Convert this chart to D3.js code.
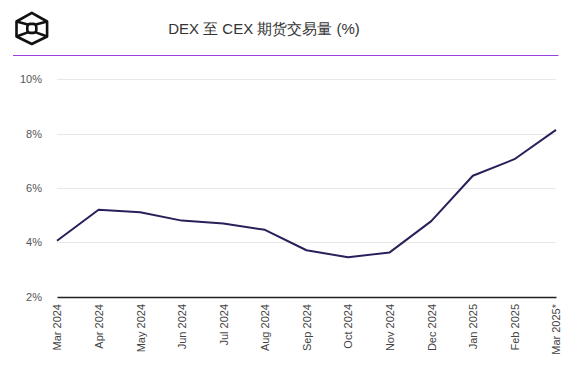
<!DOCTYPE html>
<html><head><meta charset="utf-8">
<script src="https://cdn.jsdelivr.net/npm/d3@7"></script>
<style>
html,body{margin:0;padding:0;background:#fff;}
svg{display:block;}
</style></head>
<body>
<svg id="chart" width="577" height="365"></svg>
<script>
const title = "DEX 至 CEX 期货交易量 (%)";
const months = ["Mar 2024","Apr 2024","May 2024","Jun 2024","Jul 2024","Aug 2024","Sep 2024","Oct 2024","Nov 2024","Dec 2024","Jan 2025","Feb 2025","Mar 2025*"];
const values = [4.06, 5.20, 5.11, 4.80, 4.69, 4.46, 3.71, 3.45, 3.63, 4.78, 6.45, 7.06, 8.14];
const yTicks = [2, 4, 6, 8, 10];

const svg = d3.select("#chart");
const font = "'Liberation Sans', Arial, sans-serif";

// logo
const lg = svg.append("g").attr("fill","none").attr("stroke","#111").attr("stroke-width",2.6).attr("stroke-linejoin","round");
const cx = 31.8, cy = 28.4, hw = 15.3;
const hex = [[cx,12.8],[cx+hw,21.5],[cx+hw,36.5],[cx,44],[cx-hw,36.5],[cx-hw,21.5]];
lg.append("path").attr("d", d3.line()(hex) + "Z");
lg.append("rect").attr("x",cx-4.5).attr("y",cy-4.5).attr("width",9).attr("height",9).attr("rx",3);
lg.append("path").attr("d",`M${cx-hw},21.5L${cx-4},${cy-4}M${cx+hw},21.5L${cx+4},${cy-4}M${cx-hw},36.5L${cx-4},${cy+4}M${cx+hw},36.5L${cx+4},${cy+4}`);

// title
svg.append("text").attr("x",264).attr("y",34).attr("text-anchor","middle")
  .attr("font-family",font).attr("font-size",15).attr("fill","#333").text(title);

// purple separator
svg.append("line").attr("x1",13).attr("x2",558.5).attr("y1",55.5).attr("y2",55.5)
  .attr("stroke","#9a40e0").attr("stroke-width",1.2);

const x = d3.scalePoint().domain(months).range([57, 556]);
const y = d3.scaleLinear().domain([2, 10]).range([296.7, 79.3]);

// gridlines
svg.append("g").selectAll("line").data(yTicks.filter(d=>d>2)).join("line")
  .attr("x1",57).attr("x2",556).attr("y1",d=>Math.round(y(d))+0.5).attr("y2",d=>Math.round(y(d))+0.5)
  .attr("stroke","#e8e8e8").attr("stroke-width",1);

// y axis labels
const yAxis = d3.axisLeft(y).tickValues(yTicks).tickFormat(d=>d+"%").tickSize(0).tickPadding(0);
const yg = svg.append("g").attr("transform","translate(42,0)").call(yAxis);
yg.select(".domain").remove();
yg.selectAll("text").attr("font-family",font).attr("font-size",11).attr("fill","#555");

// x axis
const xAxis = d3.axisBottom(x).tickSize(0).tickPadding(0);
const xg = svg.append("g").attr("transform","translate(0,297)").call(xAxis);
xg.select(".domain").attr("stroke","#222").attr("stroke-width",1.5);
xg.selectAll("text").attr("font-family",font).attr("font-size",11).attr("fill","#444")
  .attr("transform","rotate(-90)").attr("text-anchor","end").attr("x",-7).attr("y",0).attr("dy","0.35em");

// line
svg.append("path").datum(values)
  .attr("fill","none").attr("stroke","#2a1f5a").attr("stroke-width",2).attr("stroke-linejoin","round")
  .attr("d", d3.line().x((d,i)=>x(months[i])).y(d=>y(d)));
</script>
</body></html>
